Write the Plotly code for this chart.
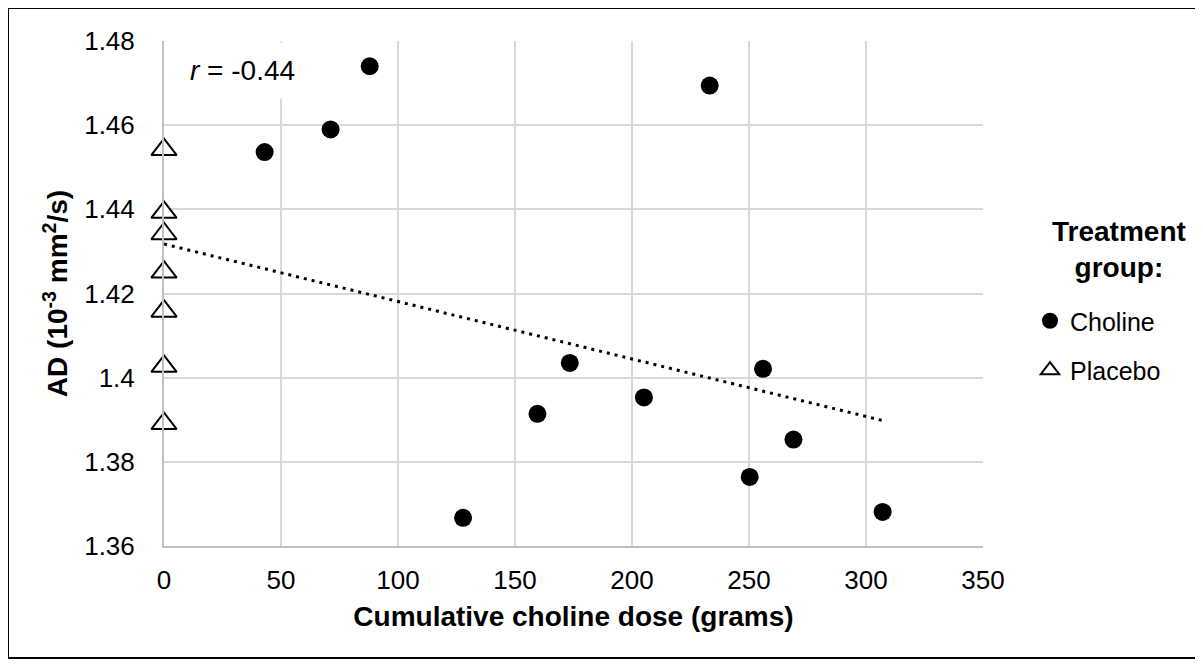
import numpy as np
import plotly.graph_objects as go

# ---------------- data ----------------
choline_dose = [43.0, 71.2, 87.9, 127.8, 159.6, 173.4, 205.1, 233.2, 250.3, 256.0, 269.0, 307.1]
choline_ad = [1.4536, 1.4590, 1.4740, 1.3667, 1.3914, 1.4035, 1.3953, 1.4694, 1.3764, 1.4021, 1.3853, 1.3681]
placebo_dose = [0, 0, 0, 0, 0, 0, 0]
placebo_ad = [1.4542, 1.4393, 1.4342, 1.4251, 1.4158, 1.4027, 1.3891]

x_ticks = [0, 50, 100, 150, 200, 250, 300, 350]
x_tick_labels = ["0", "50", "100", "150", "200", "250", "300", "350"]
y_ticks = [1.36, 1.38, 1.40, 1.42, 1.44, 1.46, 1.48]
y_tick_labels = ["1.36", "1.38", "1.4", "1.42", "1.44", "1.46", "1.48"]
r_label = "<i>r</i> = -0.44"

# ---------------- layout constants ----------------
W, H = 1203, 666
ML, MR, MT, MB = 156, 228, 33, 128
PW, PH = W - ML - MR, H - MT - MB
FONT = "Liberation Sans, Arial, sans-serif"
OFF = 8  # page offset of the figure in the screenshot


def px_x(p):
    return (p - OFF - ML) / PW


def px_y(p):
    return 1 - (p - OFF - MT) / PH


# trendline over all points (OLS)
all_x = np.array(choline_dose + placebo_dose, dtype=float)
all_y = np.array(choline_ad + placebo_ad, dtype=float)
slope, intercept = np.polyfit(all_x, all_y, 1)
tx = np.array([all_x.min(), all_x.max()])
ty = intercept + slope * tx

fig = go.Figure()

fig.add_trace(go.Scatter(
    x=tx, y=ty, mode="lines", showlegend=False, hoverinfo="skip",
    line=dict(color="black", width=3, dash="3px,5px"),
))

fig.add_trace(go.Scatter(
    x=choline_dose, y=choline_ad, mode="markers", name="Choline",
    legendgroup="a",
    marker=dict(symbol="circle", size=18, color="black", line=dict(width=0)),
))

fig.add_trace(go.Scatter(
    x=placebo_dose, y=placebo_ad, mode="markers", name="Placebo",
    legendgroup="b",
    marker=dict(symbol="triangle-up", size=22, color="white",
                line=dict(color="black", width=2)),
    cliponaxis=False,
))

fig.update_layout(
    width=W, height=H,
    margin=dict(l=ML, r=MR, t=MT, b=MB, pad=0, autoexpand=False),
    paper_bgcolor="white", plot_bgcolor="white",
    font=dict(family=FONT, size=26, color="black"),
    showlegend=True,
    legend=dict(
        x=px_x(1030), y=px_y(298), xanchor="left", yanchor="top",
        font=dict(family=FONT, size=25, color="black"),
        traceorder="grouped", tracegroupgap=14,
        itemwidth=30, bgcolor="rgba(0,0,0,0)",
    ),
    xaxis=dict(
        range=[0, 350], tickmode="array", tickvals=x_ticks, ticktext=x_tick_labels,
        showgrid=True, gridcolor="#d9d9d9", gridwidth=1.5,
        showline=True, linecolor="#bfbfbf", linewidth=2,
        zeroline=False, ticks="", ticklabelstandoff=10, automargin=False,
        tickfont=dict(family=FONT, size=26, color="black"),
        title=dict(text="<b>Cumulative choline dose (grams)</b>",
                   font=dict(family=FONT, size=28, color="black"), standoff=12),
    ),
    yaxis=dict(
        range=[1.36, 1.48], tickmode="array", tickvals=y_ticks, ticktext=y_tick_labels,
        showgrid=True, gridcolor="#d9d9d9", gridwidth=1.5,
        showline=True, linecolor="#bfbfbf", linewidth=2,
        zeroline=False, ticks="", ticklabelstandoff=22, automargin=False,
        tickfont=dict(family=FONT, size=26, color="black"),
        title=dict(text="<b>AD (10<sup>-3</sup> mm<sup>2</sup>/s)</b>",
                   font=dict(family=FONT, size=28, color="black"), standoff=8),
    ),
    annotations=[
        dict(text=r_label, xref="paper", yref="paper", x=px_x(242), y=px_y(70),
             xanchor="center", yanchor="middle", showarrow=False,
             font=dict(family=FONT, size=28, color="black"),
             bgcolor="white", borderpad=12),
        dict(text="<b>Treatment<br>group:</b>", xref="paper", yref="paper",
             x=px_x(1119), y=px_y(250), xanchor="center", yanchor="middle",
             showarrow=False, align="center",
             font=dict(family=FONT, size=28, color="black")),
    ],
    shapes=[
        dict(type="rect", xref="paper", yref="paper",
             x0=px_x(8), x1=px_x(1196), y0=px_y(658), y1=px_y(8),
             line=dict(color="black", width=2), fillcolor="rgba(0,0,0,0)",
             layer="above"),
    ],
)

fig.write_html("out.html")
